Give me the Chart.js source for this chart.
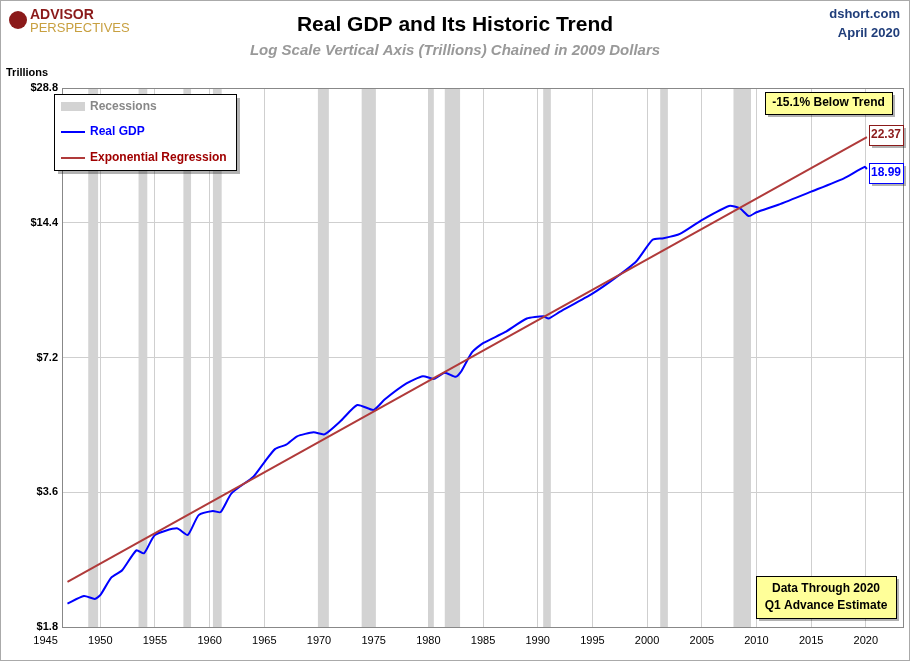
<!DOCTYPE html>
<html><head><meta charset="utf-8">
<script src="https://cdn.jsdelivr.net/npm/chart.js@4"></script>
<style>body{margin:0;background:#fff}#w{width:910px;height:661px;position:relative}</style>
</head><body><div id="w"><canvas id="c" width="910" height="661"></canvas></div>
<script>
const gdpYears=[1947,1948.5,1949.5,1950,1951,1952,1953.3,1954,1955,1957,1958,1959,1960.3,1961,1962,1964,1965,1966,1967,1968,1969.5,1970.5,1972,1973.5,1975,1976,1978,1979.5,1980.5,1981.5,1982.5,1983,1984,1985,1987,1989,1990.5,1991,1992,1995,1997,1999,2000.5,2001.5,2003,2005,2007.5,2008.5,2009.3,2010,2012,2015,2018,2019.9,2020.1];
const gdpValues=[2.03,2.11,2.08,2.12,2.32,2.41,2.67,2.63,2.89,2.99,2.89,3.2,3.27,3.25,3.58,3.9,4.2,4.5,4.6,4.8,4.9,4.85,5.2,5.64,5.5,5.8,6.3,6.54,6.45,6.66,6.52,6.7,7.4,7.75,8.2,8.8,8.9,8.8,9.1,10,10.8,11.8,13.2,13.3,13.6,14.6,15.7,15.5,14.9,15.2,15.8,16.9,18.1,19.2,18.99];
const trendYears=[1947,2020.1];
const trendValues=[2.27,22.37];
const yTicks=[1.8,3.6,7.2,14.4,28.8];
const yTickLabels=['$1.8','$3.6','$7.2','$14.4','$28.8'];
const xTicks=[1945,1950,1955,1960,1965,1970,1975,1980,1985,1990,1995,2000,2005,2010,2015,2020];
const recessions=[[1948.9,1949.8],[1953.5,1954.3],[1957.6,1958.3],[1960.3,1961.1],[1969.9,1970.9],[1973.9,1975.2],[1980.0,1980.5],[1981.5,1982.9],[1990.5,1991.2],[2001.2,2001.9],[2007.9,2009.5]];

const deco={id:'deco',
beforeDatasetsDraw(ch){const c=ch.ctx,x=ch.scales.x,a=ch.chartArea;c.save();c.fillStyle='#d3d3d3';
 recessions.forEach(r=>{const x1=x.getPixelForValue(r[0]),x2=x.getPixelForValue(r[1]);c.fillRect(x1,a.top,x2-x1,a.bottom-a.top);});c.restore();},
afterDraw(ch){const c=ch.ctx,x=ch.scales.x,y=ch.scales.y,a=ch.chartArea;c.save();
 c.strokeStyle='#888';c.lineWidth=1;c.strokeRect(a.left+.5,a.top+.5,a.right-a.left,a.bottom-a.top);
 c.strokeStyle='#aaa';c.strokeRect(.5,.5,909,660);
 c.fillStyle='#000';c.font='11px Arial, Liberation Sans';c.textAlign='center';c.textBaseline='top';
 xTicks.forEach(t=>c.fillText(String(t),x.getPixelForValue(t),a.bottom+8));
 c.font='bold 11px Liberation Sans';c.textAlign='right';c.textBaseline='middle';
 yTicks.forEach((t,i)=>c.fillText(yTickLabels[i],a.left-4,y.getPixelForValue(t)));
 c.textAlign='left';c.fillText('Trillions',6,73);
 c.textAlign='center';c.font='bold 21px Liberation Sans';c.fillText('Real GDP and Its Historic Trend',455,25);
 c.font='italic bold 15px Liberation Sans';c.fillStyle='#999';c.fillText('Log Scale Vertical Axis (Trillions) Chained in 2009 Dollars',455,51);
 c.textAlign='right';c.fillStyle='#1f3d7a';c.font='bold 13px Liberation Sans';c.fillText('dshort.com',900,14);c.fillText('April 2020',900,33);
 c.textAlign='left';c.fillStyle='#8b1a1a';c.font='bold 14px Liberation Sans';c.fillText('ADVISOR',30,15);
 c.fillStyle='#c8a040';c.font='13px Liberation Sans';c.fillText('PERSPECTIVES',30,28);
 c.beginPath();c.arc(18,20,9,0,7);c.fillStyle='#8b1a1a';c.fill();
 // legend
 c.fillStyle='rgba(0,0,0,0.3)';c.fillRect(58,98,182,76);c.fillStyle='#fff';c.fillRect(54,94,182,76);c.strokeStyle='#000';c.strokeRect(54.5,94.5,182,76);
 c.fillStyle='#d3d3d3';c.fillRect(61,102,24,9);
 c.font='bold 12px Liberation Sans';c.fillStyle='#888';c.fillText('Recessions',90,107);
 c.strokeStyle='#0000ff';c.lineWidth=2;c.beginPath();c.moveTo(61,132);c.lineTo(85,132);c.stroke();c.fillStyle='#0000ff';c.fillText('Real GDP',90,132);
 c.strokeStyle='#b03a3a';c.beginPath();c.moveTo(61,158);c.lineTo(85,158);c.stroke();c.fillStyle='#a00000';c.fillText('Exponential Regression',90,158);
 function box(txt,bx,by,w,h,fill,stroke,col,lines){c.fillStyle='rgba(0,0,0,0.3)';c.fillRect(bx+3,by+3,w,h);c.fillStyle=fill;c.fillRect(bx,by,w,h);c.lineWidth=1;c.strokeStyle=stroke;c.strokeRect(bx+.5,by+.5,w,h);c.fillStyle=col;c.textAlign='center';txt.forEach((t,i)=>c.fillText(t,bx+w/2,by+h/2+(i-(txt.length-1)/2)*17));}
 box(['-15.1% Below Trend'],765,92,127,22,'#ffff99','#000','#000');
 box(['22.37'],869,125,34,20,'#fff','#8b1a1a','#8b1a1a');
 box(['18.99'],869,163,34,20,'#fff','#0000ff','#0000ff');
 box(['Data Through 2020','Q1 Advance Estimate'],756,576,140,42,'#ffff99','#000','#000');
 c.restore();}};

new Chart(document.getElementById('c'),{type:'line',
data:{datasets:[
 {data:trendYears.map((t,i)=>({x:t,y:trendValues[i]})),borderColor:'#b03a3a',borderWidth:2,pointRadius:0},
 {data:gdpYears.map((t,i)=>({x:t,y:gdpValues[i]})),borderColor:'#0000ff',borderWidth:2,pointRadius:0,tension:0.2}]},
options:{responsive:false,animation:false,
 layout:{padding:{left:62,top:88,right:7,bottom:34}},
 plugins:{legend:{display:false},tooltip:{enabled:false}},
 scales:{
  x:{type:'linear',min:1946.5,max:2023.4,afterBuildTicks:s=>{s.ticks=xTicks.filter(t=>t>=s.min).map(v=>({value:v}))},ticks:{display:false},grid:{color:'#cfcfcf',drawTicks:false},border:{display:false}},
  y:{type:'logarithmic',min:1.8,max:28.8,afterBuildTicks:s=>{s.ticks=yTicks.map(v=>({value:v}))},ticks:{display:false},grid:{color:'#cfcfcf',drawTicks:false},border:{display:false}}}},
plugins:[deco]});
</script></body></html>
